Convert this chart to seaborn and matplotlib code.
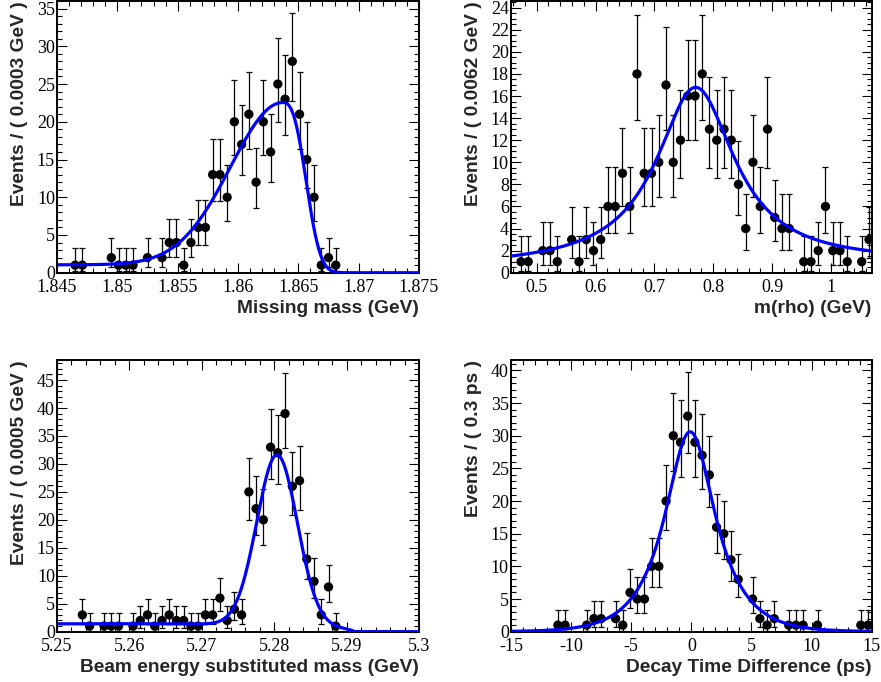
import math
import numpy as np
import matplotlib
matplotlib.use("Agg")
import matplotlib.pyplot as plt
from matplotlib.ticker import MultipleLocator, AutoMinorLocator, FormatStrFormatter
import seaborn as sns

## missing mass (bins of 0.0006 as drawn)
mm_x = [1.8465, 1.8471, 1.8495, 1.8501, 1.8507, 1.8513, 1.8525, 1.8537,
        1.8543, 1.8549, 1.8555, 1.8561, 1.8567, 1.8573, 1.8579, 1.8585,
        1.8591, 1.8597, 1.8603, 1.8609, 1.8615, 1.8621, 1.8627, 1.8633,
        1.8639, 1.8645, 1.8651, 1.8657, 1.8663, 1.8669, 1.8675, 1.8681]
mm_n = [1, 1, 2, 1, 1, 1, 2, 2,
        4, 4, 1, 4, 6, 6, 13, 13,
        10, 20, 17, 21, 12, 20, 16, 25,
        23, 28, 21, 15, 10, 1, 2, 1]

## m(rho)
rho_x = [0.4733, 0.4856, 0.5103, 0.5226, 0.5349, 0.5595, 0.5719, 0.5842,
         0.5965, 0.6088, 0.6211, 0.6335, 0.6458, 0.6581, 0.6704, 0.6827,
         0.6951, 0.7074, 0.7197, 0.7320, 0.7443, 0.7567, 0.7690, 0.7813,
         0.7936, 0.8059, 0.8183, 0.8306, 0.8429, 0.8552, 0.8675, 0.8799,
         0.8922, 0.9045, 0.9168, 0.9291, 0.9538, 0.9661, 0.9784, 0.9907,
         1.0031, 1.0154, 1.0277, 1.0523, 1.0647]
rho_n = [1, 1, 2, 2, 1, 3, 1, 3,
         2, 3, 6, 6, 9, 6, 18, 9,
         9, 10, 17, 10, 12, 16, 16, 18,
         13, 12, 13, 12, 8, 4, 10, 6,
         13, 5, 4, 4, 1, 1, 2, 6,
         2, 2, 1, 1, 3]

## beam energy substituted mass
mbc_x = [5.2535, 5.2545, 5.2565, 5.2575, 5.2585, 5.2605, 5.2615, 5.2625,
         5.2635, 5.2645, 5.2655, 5.2665, 5.2675, 5.2685, 5.2695, 5.2705,
         5.2715, 5.2725, 5.2735, 5.2745, 5.2755, 5.2765, 5.2775, 5.2785,
         5.2795, 5.2805, 5.2815, 5.2825, 5.2835, 5.2845, 5.2855, 5.2865,
         5.2875, 5.2885]
mbc_n = [3, 1, 1, 1, 1, 1, 2, 3,
         1, 2, 3, 2, 2, 1, 1, 3,
         3, 6, 2, 4, 3, 25, 22, 20,
         33, 32, 39, 26, 27, 13, 9, 3,
         8, 1]

## decay time difference
dt_x = [-11.1, -10.5, -8.7, -8.1, -7.5, -6.3, -5.7, -5.1, -4.5, -3.9,
        -3.3, -2.7, -2.1, -1.5, -0.9, -0.3, 0.3, 0.9, 1.5, 2.1,
        2.7, 3.3, 3.9, 5.1, 5.7, 6.3, 6.9, 8.1, 8.7, 9.3,
        10.5, 14.1, 14.7]
dt_n = [1, 1, 1, 2, 2, 2, 1, 6, 5, 5,
        10, 10, 20, 30, 29, 33, 29, 27, 24, 16,
        15, 11, 8, 5, 2, 1, 2, 1, 1, 1,
        1, 1, 1]

# fitted model parameters
mm_par = dict(base=1.05, amp=21.5, mean=1.8637, sig_l=0.0043, sig_r=0.0018, p_r=2.7)
rho_par = dict(amp=0.1056, mean=0.770, half_width=0.081, c0=0.5, c1=0.6)
mbc_par = dict(amp=30.5, mean=5.2804, sigma=0.0028, bkg=1.4, m0=5.291, c=-40.0)
dt_par = dict(norm=42.5, mu=-0.1, tau=2.2, sigma=1.0)


def poisson_errors(counts, cl=0.158655):
    # 68% Poisson interval, like RooFit draws
    def cdf(k, mu):
        return sum(math.exp(-mu + i * math.log(mu) - math.lgamma(i + 1)) for i in range(k + 1))
    lo, hi = [], []
    for n in counts:
        a, b = n + 1e-9, n + 10 * math.sqrt(n) + 10
        for _ in range(60):
            m = 0.5 * (a + b)
            if cdf(n, m) > cl:
                a = m
            else:
                b = m
        hi.append(0.5 * (a + b) - n)
        a, b = 1e-9, n
        for _ in range(60):
            m = 0.5 * (a + b)
            if 1 - cdf(n - 1, m) < cl:
                a = m
            else:
                b = m
        lo.append(n - 0.5 * (a + b))
    return [lo, hi]


def mm_model(x, p):
    d = x - p["mean"]
    left = p["base"] + p["amp"] * np.exp(-0.5 * (d / p["sig_l"]) ** 2)
    right = (p["base"] + p["amp"]) * np.exp(-0.5 * (np.abs(d) / p["sig_r"]) ** p["p_r"])
    return np.where(d < 0, left, right)


def rho_model(x, p):
    bw = p["amp"] / ((x - p["mean"]) ** 2 + p["half_width"] ** 2)
    return bw + p["c0"] + p["c1"] * (x - 0.456)


def mbc_model(x, p):
    def argus(v):
        z = np.clip(1 - (v / p["m0"]) ** 2, 0, None)
        return v * np.sqrt(z) * np.exp(p["c"] * z)
    g = p["amp"] * np.exp(-0.5 * ((x - p["mean"]) / p["sigma"]) ** 2)
    return g + p["bkg"] * argus(x) / argus(5.25)


def dt_model(x, p):
    erfc = np.vectorize(math.erfc)
    u = x - p["mu"]
    s, t = p["sigma"], p["tau"]
    k = 0.5 * math.exp(s ** 2 / (2 * t ** 2))
    a = np.exp(-u / t) * erfc((s / t - u / s) / math.sqrt(2))
    b = np.exp(u / t) * erfc((s / t + u / s) / math.sqrt(2))
    return p["norm"] * k * (a + b)


sns.set_style("ticks")
plt.rcParams["font.family"] = ["Liberation Serif", "DejaVu Serif"]

fig = plt.figure(figsize=(8.81, 6.82), dpi=100)

panels = [
    dict(pos=[0.0647, 0.6001, 0.4109, 0.3984], x=mm_x, n=mm_n, model=mm_model, par=mm_par,
         xlim=(1.845, 1.875), ymax=36, xmaj=0.005, ymaj=5, ydiv=5,
         xlabel="Missing mass (GeV)", ylabel="Events / ( 0.0003 GeV )"),
    dict(pos=[0.5800, 0.6001, 0.4094, 0.3984], x=rho_x, n=rho_n, model=rho_model, par=rho_par,
         xlim=(0.4563, 1.0692), ymax=24.6, xmaj=0.1, ymaj=2, ydiv=4,
         xlabel="m(rho) (GeV)", ylabel="Events / ( 0.0062 GeV )"),
    dict(pos=[0.0647, 0.0738, 0.4109, 0.3984], x=mbc_x, n=mbc_n, model=mbc_model, par=mbc_par,
         xlim=(5.25, 5.30), ymax=48.6, xmaj=0.01, ymaj=5, ydiv=5,
         xlabel="Beam energy substituted mass (GeV)", ylabel="Events / ( 0.0005 GeV )"),
    dict(pos=[0.5800, 0.0738, 0.4094, 0.3984], x=dt_x, n=dt_n, model=dt_model, par=dt_par,
         xlim=(-15, 15), ymax=41.6, xmaj=5, ymaj=5, ydiv=5,
         xlabel="Decay Time Difference (ps)", ylabel="Events / ( 0.3 ps )"),
]

for pn in panels:
    ax = fig.add_axes(pn["pos"])
    err = poisson_errors(pn["n"])
    ax.errorbar(pn["x"], pn["n"], yerr=err, fmt="none", ecolor="black",
                elinewidth=0.9, capsize=2.2, capthick=0.9, zorder=2)
    sns.scatterplot(x=pn["x"], y=pn["n"], ax=ax, color="black", s=45,
                    edgecolor="none", zorder=3)
    xs = np.linspace(pn["xlim"][0], pn["xlim"][1], 1200)
    sns.lineplot(x=xs, y=pn["model"](xs, pn["par"]), ax=ax, color="#0000ff",
                 linewidth=2.3, zorder=4)

    ax.set_xlim(*pn["xlim"])
    ax.set_ylim(0, pn["ymax"])
    ax.xaxis.set_major_locator(MultipleLocator(pn["xmaj"]))
    ax.xaxis.set_minor_locator(AutoMinorLocator(5))
    ax.yaxis.set_major_locator(MultipleLocator(pn["ymaj"]))
    ax.yaxis.set_minor_locator(AutoMinorLocator(pn["ydiv"]))
    ax.xaxis.set_major_formatter(FormatStrFormatter("%g"))
    ax.yaxis.set_major_formatter(FormatStrFormatter("%g"))
    ax.tick_params(which="both", direction="in", top=True, right=True,
                   width=0.8, labelsize=13, colors="black")
    ax.tick_params(which="major", length=7)
    ax.tick_params(which="minor", length=3.5)
    ax.tick_params(axis="x", pad=4.5)
    ax.tick_params(axis="y", pad=1.5)
    for sp in ax.spines.values():
        sp.set_linewidth(1.4)
        sp.set_color("black")

    ax.set_xlabel(pn["xlabel"], loc="right", fontsize=13.8, fontweight="bold",
                  fontfamily="Liberation Sans")
    ax.set_ylabel(pn["ylabel"], loc="top", fontsize=13.8, fontweight="bold",
                  fontfamily="Liberation Sans")
    ax.xaxis.set_label_coords(1.0, -0.1)
    ax.yaxis.set_label_coords(-0.08, 1.0)

fig.savefig("out.png", dpi=100, facecolor="white")
